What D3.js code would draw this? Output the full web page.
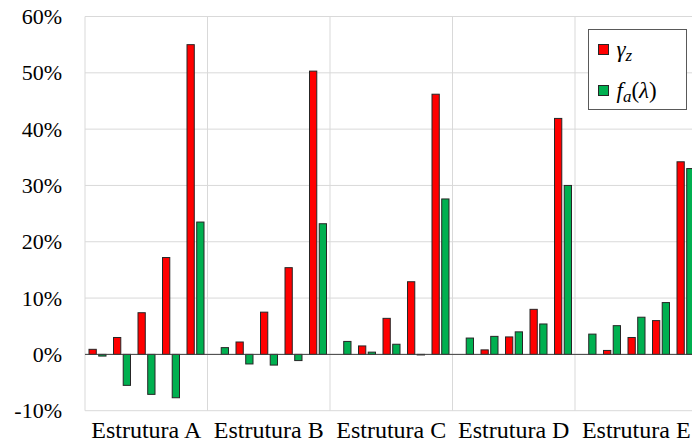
<!DOCTYPE html>
<html>
<head>
<meta charset="utf-8">
<script src="https://cdn.jsdelivr.net/npm/d3@7"></script>
<style>
  body { margin: 0; background: #fff; }
  svg { display: block; }
</style>
</head>
<body>
<svg id="chart" width="692" height="443"></svg>
<script>
// Data
const categories = ["Estrutura A", "Estrutura B", "Estrutura C", "Estrutura D", "Estrutura E"];
const cases = [0, 1, 2, 3, 4];
const seriesKeys = ["gammaZ", "faLambda"];
// values in %, one row per structure, five cases each
const gammaZ = [
  [0.9, 3.0, 7.4, 17.2, 55.0],
  [0.0, 2.2, 7.5, 15.4, 50.3],
  [0.0, 1.5, 6.4, 12.9, 46.2],
  [0.0, 0.8, 3.1, 8.0, 41.9],
  [0.0, 0.7, 3.0, 6.0, 34.2]
];
const faLambda = [
  [-0.3, -5.5, -7.1, -7.7, 23.5],
  [1.2, -1.7, -1.9, -1.1, 23.2],
  [2.3, 0.4, 1.8, -0.1, 27.6],
  [2.9, 3.2, 4.0, 5.4, 30.0],
  [3.6, 5.1, 6.6, 9.2, 33.0]
];
const yTicks = [-10, 0, 10, 20, 30, 40, 50, 60];

const colors = { gammaZ: "#ff0000", faLambda: "#00b050" };
const serif = "'Liberation Serif'";

const svg = d3.select("#chart");
const margin = { left: 85, top: 16.5, bottom: 410.7 };
const plotRight = 85 + 5 * 122.5;

const x = d3.scaleBand().domain(categories).range([margin.left, plotRight]).padding(0);
const xCase = d3.scaleBand().domain(cases).range([0, x.bandwidth()]).padding(0);
const xSeries = d3.scaleBand().domain(seriesKeys).range([4, 21.5]).paddingInner(0.2).paddingOuter(0);
const y = d3.scaleLinear().domain([-10, 60]).range([margin.bottom, margin.top]);

// grid
svg.append("g")
  .selectAll("line")
  .data(yTicks)
  .join("line")
  .attr("x1", margin.left).attr("x2", plotRight)
  .attr("y1", d => y(d)).attr("y2", d => y(d))
  .attr("stroke", "#d9d9d9").attr("stroke-width", 1);

svg.append("g")
  .selectAll("line")
  .data(categories.concat(["end"]))
  .join("line")
  .attr("x1", (d, i) => margin.left + i * x.step())
  .attr("x2", (d, i) => margin.left + i * x.step())
  .attr("y1", margin.top).attr("y2", margin.bottom)
  .attr("stroke", "#d9d9d9").attr("stroke-width", 1);

// bars
const rows = [];
categories.forEach((c, ci) => {
  cases.forEach(k => {
    rows.push({ cat: c, k: k, key: "gammaZ", v: gammaZ[ci][k] });
    rows.push({ cat: c, k: k, key: "faLambda", v: faLambda[ci][k] });
  });
});

svg.append("g")
  .selectAll("rect")
  .data(rows)
  .join("rect")
  .attr("x", d => x(d.cat) + xCase(d.k) + xSeries(d.key))
  .attr("width", xSeries.bandwidth() - 0.5)
  .attr("y", d => y(Math.max(0, d.v)))
  .attr("height", d => Math.abs(y(d.v) - y(0)))
  .attr("fill", d => colors[d.key])
  .attr("stroke", "#262626")
  .attr("stroke-width", 1);

// zero line
svg.append("line")
  .attr("x1", margin.left).attr("x2", plotRight)
  .attr("y1", y(0)).attr("y2", y(0))
  .attr("stroke", "#404040").attr("stroke-width", 1);

// y axis labels
const yAxis = svg.append("g")
  .attr("transform", `translate(${margin.left},0)`)
  .call(d3.axisLeft(y).tickValues(yTicks).tickSize(0).tickPadding(23).tickFormat(d => d + "%"));
yAxis.select(".domain").remove();
yAxis.attr("font-family", null).attr("font-size", null);
yAxis.selectAll("text")
  .style("font-family", serif)
  .style("font-size", "22px")
  .attr("fill", "#000");

// x axis labels
const xAxis = svg.append("g")
  .attr("transform", `translate(0,${margin.bottom})`)
  .call(d3.axisBottom(x).tickSize(0).tickPadding(10));
xAxis.select(".domain").remove();
xAxis.attr("font-family", null).attr("font-size", null);
xAxis.selectAll("text")
  .style("font-family", serif)
  .style("font-size", "24px")
  .attr("fill", "#000");

// legend
const legend = svg.append("g").attr("transform", "translate(588.5,29.5)");
legend.append("rect")
  .attr("width", 98).attr("height", 80)
  .attr("fill", "#fff").attr("stroke", "#595959").attr("stroke-width", 1);

const lg = legend.selectAll("g")
  .data(seriesKeys)
  .join("g")
  .attr("transform", (d, i) => `translate(10,${20 + i * 41})`);

lg.append("rect")
  .attr("x", 0).attr("y", -5)
  .attr("width", 10).attr("height", 10)
  .attr("fill", d => colors[d])
  .attr("stroke", "#262626").attr("stroke-width", 1);

const lt = lg.append("text")
  .attr("x", 18).attr("y", 7)
  .style("font-family", serif)
  .style("font-size", "23px")
  .style("font-style", "italic");

lt.filter(d => d === "gammaZ").each(function () {
  const t = d3.select(this);
  t.append("tspan").text("γ");
  t.append("tspan").style("font-size", "17px").attr("dy", 4).text("z");
});
lt.filter(d => d === "faLambda").each(function () {
  const t = d3.select(this);
  t.append("tspan").text("f");
  t.append("tspan").style("font-size", "17px").attr("dy", 4).text("a");
  t.append("tspan").attr("dy", -4).style("font-style", "normal").text("(");
  t.append("tspan").text("λ");
  t.append("tspan").style("font-style", "normal").text(")");
});
</script>
</body>
</html>
